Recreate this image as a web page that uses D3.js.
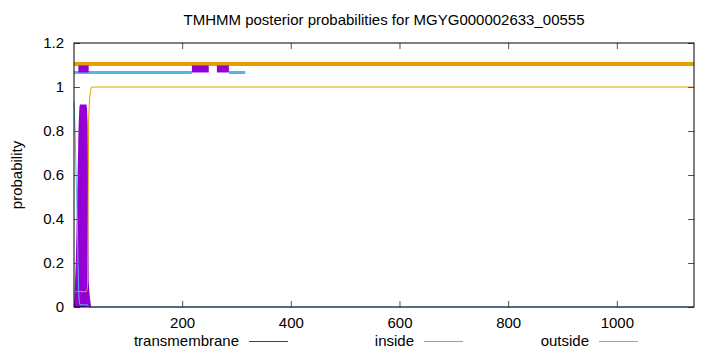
<!DOCTYPE html>
<html>
<head>
<meta charset="utf-8">
<script src="https://cdn.jsdelivr.net/npm/d3@7"></script>
<style>
  body { margin: 0; background: #fff; }
  svg text { font-family: "Liberation Sans", Arial, sans-serif; fill: #000; }
</style>
</head>
<body>
<div id="chart"></div>
<script>
// sequence positions and posterior probabilities
var seqLength = 1142;
var positions = [1, 2, 3, 4, 5, 6, 7, 8, 9, 10, 11, 12, 24, 25, 26, 27, 28, 29, 30, 31, 32, 33, 1142];
var transmembrane = [0, 0.06, 0.12, 0.18, 0.28, 0.40, 0.50, 0.65, 0.78, 0.86, 0.91, 0.92, 0.92, 0.90, 0.84, 0.50, 0.12, 0.08, 0.05, 0.03, 0.01, 0, 0];
var inside = [0.93, 0.87, 0.80, 0.70, 0.58, 0.50, 0.40, 0.25, 0.12, 0.05, 0.02, 0.01, 0.01, 0.01, 0.01, 0, 0, 0, 0, 0, 0, 0, 0];
var outside = [0.07, 0.07, 0.07, 0.07, 0.07, 0.07, 0.07, 0.07, 0.07, 0.07, 0.07, 0.07, 0.07, 0.08, 0.10, 0.45, 0.85, 0.92, 0.95, 0.97, 0.99, 1, 1];

// predicted topology segments drawn above the curves [start, end]
var tmSegments = [[9, 28], [218, 249], [264, 286]];
var insideSegments = [[1, 218], [286, 316]];
var outsideSegments = [[1, 1142]];

var xTicks = [200, 400, 600, 800, 1000];
var yTicks = [0, 0.2, 0.4, 0.6, 0.8, 1, 1.2];
var legendLabels = ['transmembrane', 'inside', 'outside'];

var colors = { tm: '#9400d3', inside: '#56b4e9', outside: '#e69f00' };

var width = 720, height = 352;
var margin = { top: 43, right: 26, bottom: 45, left: 74 };

var svg = d3.select('#chart').append('svg')
	.attr('width', width)
	.attr('height', height);

var x = d3.scaleLinear().domain([1, seqLength]).range([margin.left, width - margin.right]);
var y = d3.scaleLinear().domain([0, 1.2]).range([height - margin.bottom, margin.top]);

var rows = positions.map(function(p, i) {
	return { pos: p, tm: transmembrane[i], inside: inside[i], outside: outside[i] };
});

// title
svg.append('text')
	.attr('x', 384).attr('y', 25)
	.attr('text-anchor', 'middle')
	.style('font-size', '15px')
	.text('TMHMM posterior probabilities for MGYG000002633_00555');

// y label
svg.append('text')
	.attr('transform', 'translate(22,' + ((margin.top + height - margin.bottom) / 2) + ') rotate(-90)')
	.attr('text-anchor', 'middle')
	.style('font-size', '15px')
	.text('probability');

// transmembrane area
var area = d3.area()
	.x(function(d) { return x(d.pos); })
	.y0(y(0))
	.y1(function(d) { return y(d.tm); });

svg.append('path')
	.datum(rows)
	.attr('d', area)
	.attr('fill', colors.tm);

function line(key) {
	return d3.line()
		.x(function(d) { return x(d.pos); })
		.y(function(d) { return y(d[key]); });
}

svg.append('path').datum(rows).attr('d', line('inside'))
	.attr('fill', 'none').attr('stroke', colors.inside).attr('stroke-width', 1);
svg.append('path').datum(rows).attr('d', line('outside'))
	.attr('fill', 'none').attr('stroke', colors.outside).attr('stroke-width', 1);

// topology bars
function bars(segs, level, thick, color) {
	svg.append('g').selectAll('line')
		.data(segs)
		.enter()
		.append('line')
		.attr('x1', function(d) { return x(d[0]); })
		.attr('x2', function(d) { return x(d[1]); })
		.attr('y1', y(level)).attr('y2', y(level))
		.attr('stroke', color)
		.attr('stroke-width', thick);
}
bars(outsideSegments, 1.105, 4, colors.outside);
bars(insideSegments, 1.066, 3, colors.inside);
bars(tmSegments, 1.082, 7, colors.tm);

// axes
var xAxis = d3.axisBottom(x).tickValues(xTicks).tickSizeInner(-6).tickSizeOuter(0).tickPadding(10)
	.tickFormat(d3.format('d'));
var yAxis = d3.axisLeft(y).tickValues(yTicks).tickSizeInner(-6).tickSizeOuter(0).tickPadding(10)
	.tickFormat(function(d) { return String(+d.toFixed(1)); });

var gx = svg.append('g').attr('transform', 'translate(0,' + (height - margin.bottom) + ')').call(xAxis);
var gy = svg.append('g').attr('transform', 'translate(' + margin.left + ',0)').call(yAxis);
[gx, gy].forEach(function(g) {
	g.select('.domain').remove();
	g.selectAll('.tick line').attr('stroke', '#555');
	g.selectAll('.tick text').style('font-size', '15px').attr('font-family', null);
});

// mirrored ticks
var gx2 = svg.append('g').attr('transform', 'translate(0,' + margin.top + ')')
	.call(d3.axisTop(x).tickValues(xTicks).tickSizeInner(-6).tickSizeOuter(0).tickFormat(''));
var gy2 = svg.append('g').attr('transform', 'translate(' + (width - margin.right) + ',0)')
	.call(d3.axisRight(y).tickValues(yTicks).tickSizeInner(-6).tickSizeOuter(0).tickFormat(''));
[gx2, gy2].forEach(function(g) {
	g.select('.domain').remove();
	g.selectAll('.tick line').attr('stroke', '#555');
});

// border
svg.append('rect')
	.attr('x', margin.left).attr('y', margin.top)
	.attr('width', width - margin.left - margin.right)
	.attr('height', height - margin.top - margin.bottom)
	.attr('fill', 'none')
	.attr('stroke', '#000')
	.attr('stroke-width', 1);

// legend
var legendX = [239, 414, 589];
var legendColors = [colors.tm, colors.inside, colors.outside];
var legend = svg.append('g').selectAll('g')
	.data(legendLabels)
	.enter()
	.append('g');
legend.append('text')
	.attr('x', function(d, i) { return legendX[i]; })
	.attr('y', 346)
	.attr('text-anchor', 'end')
	.style('font-size', '15px')
	.text(function(d) { return d; });
legend.append('line')
	.attr('x1', function(d, i) { return legendX[i] + 10; })
	.attr('x2', function(d, i) { return legendX[i] + 49; })
	.attr('y1', 341.5).attr('y2', 341.5)
	.style('stroke', function(d, i) { return legendColors[i]; })
	.style('stroke-width', 1);
</script>
</body>
</html>
